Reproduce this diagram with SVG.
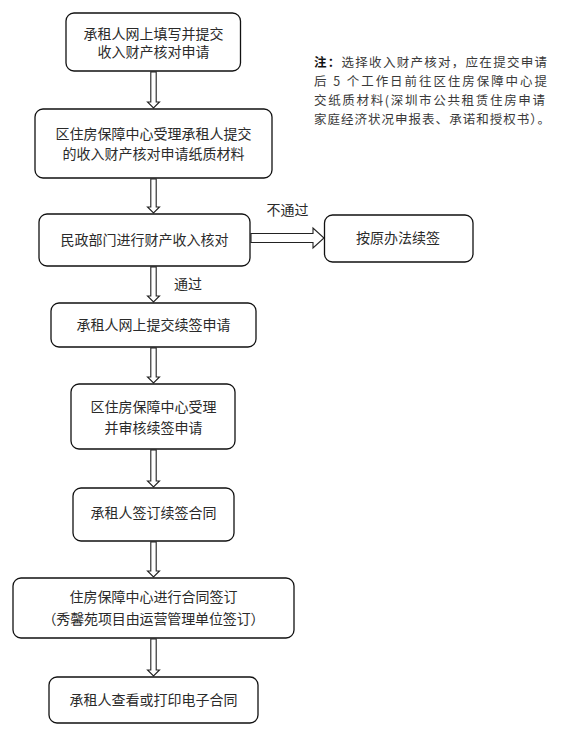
<svg xmlns="http://www.w3.org/2000/svg" width="571" height="731" viewBox="0 0 571 731">
<style>
.box{fill:#fff;stroke:#111;stroke-width:1.3}
.arr{fill:#fff;stroke:#222;stroke-width:1.1;stroke-linejoin:miter}
.t{font-family:"Noto Sans CJK SC","Noto Sans",sans-serif;font-size:14px;fill:#2a2a2a;text-anchor:middle}
.lbl{font-family:"Noto Sans CJK SC","Noto Sans",sans-serif;font-size:14px;fill:#2a2a2a;text-anchor:middle}
.note{font-family:"Noto Sans CJK SC","Noto Sans",sans-serif;font-size:12.5px;fill:#3a3a3a}
</style>
<rect width="571" height="731" fill="#fff"/>
<g id="connectors">
<polygon class="arr" points="150.8,72 156.2,72 156.2,102 159.5,102 153.5,108 147.5,102 150.8,102"/>
<polygon class="arr" points="150.8,179 156.2,179 156.2,207 159.5,207 153.5,213 147.5,207 150.8,207"/>
<polygon class="arr" points="150.8,267 156.2,267 156.2,296 159.5,296 153.5,302 147.5,296 150.8,296"/>
<polygon class="arr" points="150.8,348 156.2,348 156.2,377 159.5,377 153.5,383 147.5,377 150.8,377"/>
<polygon class="arr" points="150.8,450 156.2,450 156.2,481 159.5,481 153.5,487 147.5,481 150.8,481"/>
<polygon class="arr" points="150.8,542 156.2,542 156.2,571 159.5,571 153.5,577 147.5,571 150.8,571"/>
<polygon class="arr" points="150.8,639 156.2,639 156.2,670 159.5,670 153.5,676 147.5,670 150.8,670"/>
<polygon class="arr" points="251,233.5 313,233.5 313,228 324,238 313,248 313,242.5 251,242.5"/>
<text class="lbl" x="287.5" y="215">不通过</text>
<text class="lbl" x="188" y="289">通过</text>
</g>
<g id="n1">
<rect class="box" x="66" y="13" width="174.5" height="58" rx="8"/>
<text class="t" x="153.5" y="38.5">承租人网上填写并提交</text>
<text class="t" x="153.5" y="57">收入财产核对申请</text>
</g>
<g id="n2">
<rect class="box" x="35" y="109" width="237" height="69" rx="8"/>
<text class="t" x="153.5" y="138.5">区住房保障中心受理承租人提交</text>
<text class="t" x="153.5" y="158.5">的收入财产核对申请纸质材料</text>
</g>
<g id="n3">
<rect class="box" x="39" y="214" width="211" height="52" rx="8"/>
<text class="t" x="144.5" y="245">民政部门进行财产收入核对</text>
</g>
<g id="n4">
<rect class="box" x="324.5" y="215" width="148.5" height="47" rx="8"/>
<text class="t" x="398" y="243">按原办法续签</text>
</g>
<g id="n5">
<rect class="box" x="51" y="303" width="205" height="44" rx="8"/>
<text class="t" x="153.5" y="330">承租人网上提交续签申请</text>
</g>
<g id="n6">
<rect class="box" x="71" y="384" width="164" height="65" rx="8"/>
<text class="t" x="153.5" y="412">区住房保障中心受理</text>
<text class="t" x="153.5" y="433">并审核续签申请</text>
</g>
<g id="n7">
<rect class="box" x="73" y="488" width="161" height="53" rx="8"/>
<text class="t" x="153.5" y="518">承租人签订续签合同</text>
</g>
<g id="n8">
<rect class="box" x="13" y="578" width="281" height="60" rx="8"/>
<text class="t" x="153.5" y="602">住房保障中心进行合同签订</text>
<text class="t" x="153.5" y="624" textLength="222" lengthAdjust="spacing">（秀馨苑项目由运营管理单位签订）</text>
</g>
<g id="n9">
<rect class="box" x="49" y="677" width="209" height="46" rx="8"/>
<text class="t" x="153.5" y="705">承租人查看或打印电子合同</text>
</g>
<g id="note">
<text class="note" x="314" y="66.5" textLength="233" lengthAdjust="spacing"><tspan font-weight="bold" fill="#111">注：</tspan>选择收入财产核对，应在提交申请</text>
<text class="note" x="314" y="85.5" textLength="233" lengthAdjust="spacing">后 5 个工作日前往区住房保障中心提</text>
<text class="note" x="314" y="105" textLength="231" lengthAdjust="spacing">交纸质材料(深圳市公共租赁住房申请</text>
<text class="note" x="314" y="123.5" textLength="236" lengthAdjust="spacing">家庭经济状况申报表、承诺和授权书）。</text>
</g>
</svg>
